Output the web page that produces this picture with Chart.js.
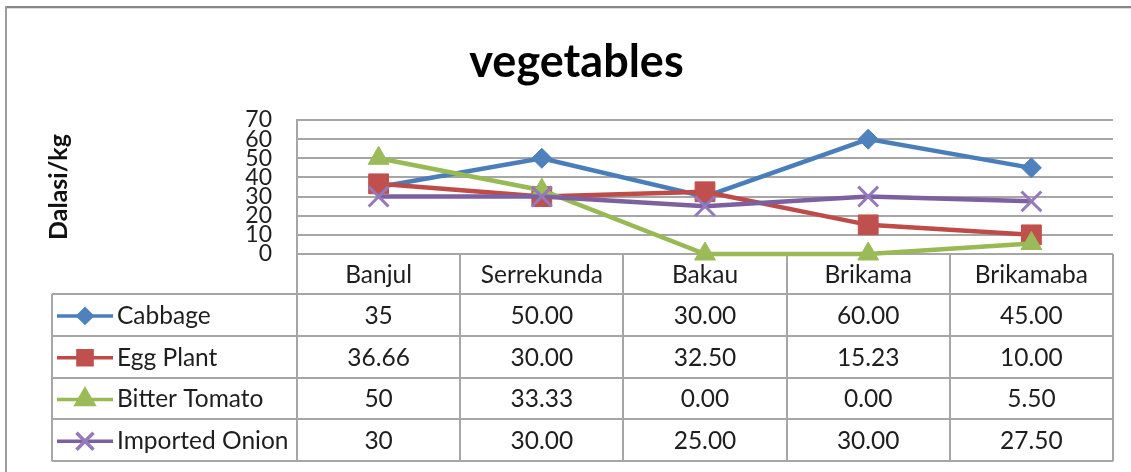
<!DOCTYPE html>
<html>
<head>
<meta charset="utf-8">
<script src="https://cdn.jsdelivr.net/npm/chart.js@4.4.1/dist/chart.umd.min.js"></script>
<style>
  html, body { margin: 0; padding: 0; background: #fff; }
  #wrap { width: 1131px; height: 472px; position: relative; }
</style>
</head>
<body>
<div id="wrap"><canvas id="vegChart"></canvas></div>
<script>
var markets = ["Banjul", "Serrekunda", "Bakau", "Brikama", "Brikamaba"];
var cabbage = [35, 50, 30, 60, 45];
var eggPlant = [36.66, 30, 32.5, 15.23, 10];
var bitterTomato = [50, 33.33, 0, 0, 5.5];
var importedOnion = [30, 30, 25, 30, 27.5];
var yTicks = [0, 10, 20, 30, 40, 50, 60, 70];
// Banjul column is in General format in the table, the rest show 2 decimals
var tableDecimals = [null, 2, 2, 2, 2];

var gridColor = "#a6a6a6";
var textColor = "#1e1e1e";

function fmt(v, i) {
  return tableDecimals[i] === null ? String(v) : v.toFixed(tableDecimals[i]);
}

/*frame + data table under the plot*/
var tablePlugin = {
  id: "dataTable",
  beforeDraw: function (chart) {
    var ctx = chart.ctx;
    ctx.save();
    ctx.fillStyle = "#ffffff";
    ctx.fillRect(0, 0, chart.width, chart.height);
    ctx.fillStyle = "#868686";
    ctx.fillRect(5, 6, chart.width - 5, 2);
    ctx.fillStyle = "#dcdcdc";
    ctx.fillRect(7, 8, chart.width - 7, 1);
    ctx.fillStyle = "#9c9c9c";
    ctx.fillRect(5, 6, 2, chart.height - 6);
    ctx.restore();
  },
  beforeDatasetsDraw: function (chart) {
    var ctx = chart.ctx;
    var area = chart.chartArea;
    var xs = chart.scales.x;
    var sets = chart.data.datasets;
    var colW = (area.right - area.left) / markets.length;
    var headerH = 40, rowH = 41.8, legendLeft = 52;
    var top = area.bottom;
    var rowsTop = top + headerH;
    var bottom = rowsTop + rowH * sets.length;

    ctx.save();
    ctx.strokeStyle = gridColor;
    ctx.lineWidth = 2;
    ctx.beginPath();
    // horizontal rules
    for (var k = 0; k <= sets.length; k++) {
      var yy = Math.round(rowsTop + k * rowH);
      ctx.moveTo(legendLeft, yy);
      ctx.lineTo(area.right, yy);
    }
    ctx.moveTo(area.left, top);
    ctx.lineTo(area.right, top);
    // vertical rules
    ctx.moveTo(area.left, top);
    ctx.lineTo(area.left, bottom);
    for (var i = 1; i <= markets.length; i++) {
      var xx = Math.round(area.left + i * colW);
      ctx.moveTo(xx, top);
      ctx.lineTo(xx, bottom);
    }
    ctx.moveTo(legendLeft, rowsTop);
    ctx.lineTo(legendLeft, bottom);
    ctx.stroke();

    ctx.fillStyle = textColor;
    ctx.font = "24.5px Lato";
    ctx.textBaseline = "middle";
    ctx.textAlign = "center";
    chart.data.labels.forEach(function (lab, i) {
      ctx.fillText(lab, xs.getPixelForValue(i), top + headerH / 2 + 1);
    });

    sets.forEach(function (ds, d) {
      var y = rowsTop + rowH * (d + 0.5) + 1;
      // legend key
      ctx.strokeStyle = ds.borderColor;
      ctx.lineWidth = 3.5;
      ctx.beginPath();
      ctx.moveTo(57, y);
      ctx.lineTo(113, y);
      ctx.stroke();
      ctx.fillStyle = ds.pointBackgroundColor;
      ctx.strokeStyle = ds.pointBorderColor;
      Chart.helpers.drawPoint(ctx, {
        pointStyle: ds.pointStyle,
        radius: ds.keyRadius,
        rotation: 0,
        borderWidth: ds.pointBorderWidth
      }, 85, y);

      ctx.fillStyle = textColor;
      ctx.textAlign = "left";
      ctx.fillText(ds.label, 117, y);
      ctx.textAlign = "center";
      ds.data.forEach(function (v, i) {
        ctx.fillText(fmt(v, i), xs.getPixelForValue(i), y);
      });
    });
    ctx.restore();
  }
};

var ctx = document.getElementById("vegChart").getContext("2d");
var chart = new Chart(ctx, {
  type: "line",
  data: {
    labels: markets,
    datasets: [
      {
        label: "Cabbage",
        data: cabbage,
        borderColor: "#4a7ebb",
        pointBackgroundColor: "#4f81bd",
        pointBorderColor: "#4f81bd",
        pointStyle: "rectRot",
        pointRadius: 10,
        keyRadius: 7,
        pointBorderWidth: 1,
        order: 3
      },
      {
        label: "Egg Plant",
        data: eggPlant,
        borderColor: "#be4b48",
        pointBackgroundColor: "#c0504d",
        pointBorderColor: "#c0504d",
        pointStyle: "rect",
        pointRadius: 14,
        keyRadius: 10,
        pointBorderWidth: 1,
        order: 2
      },
      {
        label: "Bitter Tomato",
        data: bitterTomato,
        borderColor: "#98b954",
        pointBackgroundColor: "#9bbb59",
        pointBorderColor: "#9bbb59",
        pointStyle: "triangle",
        pointRadius: 12,
        keyRadius: 10,
        pointBorderWidth: 1,
        order: 1
      },
      {
        label: "Imported Onion",
        data: importedOnion,
        borderColor: "#7d60a0",
        pointBackgroundColor: "#9479bb",
        pointBorderColor: "#9479bb",
        pointStyle: "crossRot",
        pointRadius: 14,
        keyRadius: 12,
        pointBorderWidth: 3,
        order: 0
      }
    ]
  },
  options: {
    responsive: true,
    maintainAspectRatio: false,
    animation: false,
    clip: false,
    elements: {
      line: { borderWidth: 4.5, tension: 0, fill: false }
    },
    layout: {
      padding: { left: 40, right: 18, top: 0, bottom: 218 }
    },
    plugins: {
      legend: { display: false },
      tooltip: { enabled: false },
      title: {
        display: true,
        text: "vegetables",
        color: "#000",
        font: { family: "Lato", size: 45, weight: "bold" },
        padding: { top: 35, bottom: 31 }
      }
    },
    scales: {
      x: {
        display: false,
        offset: true
      },
      y: {
        min: yTicks[0],
        max: yTicks[yTicks.length - 1],
        afterFit: function (scale) {
          scale.width = 257;
        },
        ticks: {
          stepSize: yTicks[1] - yTicks[0],
          autoSkip: false,
          padding: 25,
          color: textColor,
          font: { family: "Lato", size: 23 }
        },
        grid: {
          color: gridColor,
          lineWidth: 2,
          drawTicks: false
        },
        border: { color: gridColor, width: 2 },
        title: {
          display: true,
          text: "Dalasi/kg",
          color: "#111",
          font: { family: "Lato", size: 25, weight: "bold" },
          padding: { top: 4 }
        }
      }
    }
  },
  plugins: [tablePlugin]
});
</script>
</body>
</html>
